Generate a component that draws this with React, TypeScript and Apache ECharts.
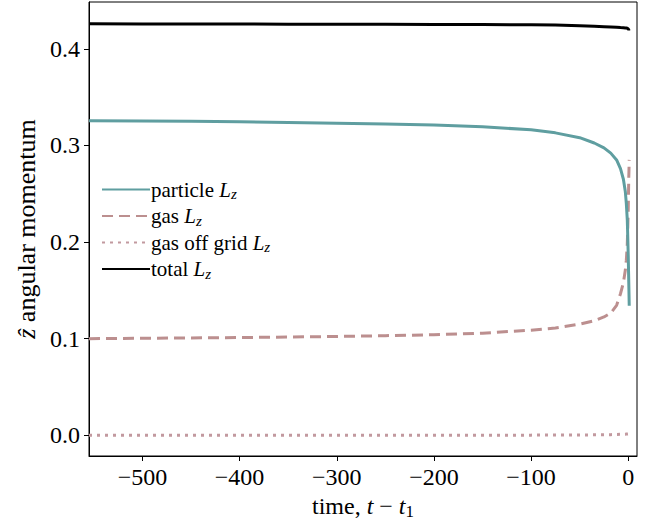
import React, { useEffect, useRef } from "react";
import * as echarts from "echarts";

const times = [-555, -500, -450, -400, -350, -300, -250, -200, -150, -100, -75, -50, -35, -25, -18, -12, -8, -5, -3, -2, -1, -0.5, 0, 0.5, 1];
const particleLz = [0.3255, 0.3252, 0.3249, 0.3244, 0.3237, 0.323, 0.3222, 0.321, 0.3192, 0.3162, 0.313, 0.308, 0.3025, 0.2975, 0.292, 0.285, 0.276, 0.265, 0.252, 0.24, 0.223, 0.205, 0.185, 0.16, 0.134];
const gasLz = [0.1, 0.1004, 0.1008, 0.1012, 0.1017, 0.1023, 0.1031, 0.1041, 0.1057, 0.1088, 0.111, 0.115, 0.1185, 0.1225, 0.1265, 0.1345, 0.1465, 0.158, 0.171, 0.181, 0.198, 0.215, 0.235, 0.265, 0.285];
const offGridLz = [0.0, 0.0, 0.0, 0.0, 0.0, 0.0, 0.0001, 0.0001, 0.0001, 0.0002, 0.0003, 0.0004, 0.0005, 0.0006, 0.0007, 0.0009, 0.001, 0.0011, 0.0012, 0.0013, 0.0014, 0.0014, 0.0015, 0.0015, 0.0016];
const totalLz = [0.4258, 0.4257, 0.4256, 0.4256, 0.4255, 0.4254, 0.4253, 0.4252, 0.425, 0.4248, 0.4245, 0.4238, 0.4233, 0.4229, 0.4226, 0.4223, 0.422, 0.4218, 0.4216, 0.4214, 0.4212, 0.4208, 0.4205, 0.4195, 0.4205];

const xTicks = [-500, -400, -300, -200, -100, 0];
const yTicks = [0.0, 0.1, 0.2, 0.3, 0.4];

const seriesNames = ["particle", "gas", "gas off grid", "total"];
const seriesColors = ["#5f9ea0", "#bc8f8f", "#c2999f", "#000000"];

const FONT = "'Liberation Serif', 'DejaVu Serif', serif";

export default function App() {
  const ref = useRef<HTMLDivElement>(null);
  useEffect(() => {
    document.body.style.margin = "0";
    const chart = echarts.init(ref.current!, null, { renderer: "svg" });
    const mk = (vals: number[]) => times.map((t, i) => [t, vals[i]]);
    const subRich = {
      i: { fontFamily: FONT, fontStyle: "italic", fontSize: 21, color: "#000" },
      sub: { fontFamily: FONT, fontStyle: "italic", fontSize: 15, color: "#000", padding: [9, 0, 0, 0] },
    };
    chart.setOption({
      animation: false,
      textStyle: { fontFamily: FONT },
      grid: {
        left: 89,
        right: 14,
        top: 2,
        bottom: 64,
        show: true,
        borderColor: "#000",
        borderWidth: 1,
        containLabel: false,
        outerBoundsMode: "none",
      },
      legend: {
        orient: "vertical",
        left: 101,
        top: 179,
        padding: 0,
        itemWidth: 48,
        itemHeight: 14,
        itemGap: 4,
        itemStyle: { opacity: 0 },
        data: seriesNames,
        formatter: (name: string) => `${name} {i|L}{sub|z}`,
        textStyle: {
          fontFamily: FONT,
          fontSize: 21,
          color: "#000",
          lineHeight: 21,
          padding: [0, 0, 0, -4],
          rich: subRich,
        },
      },
      xAxis: {
        type: "value",
        min: -555,
        max: 9,
        splitLine: { show: false },
        axisLine: { show: true, onZero: false, lineStyle: { color: "#000", width: 1 } },
        axisTick: { show: true, length: 5, lineStyle: { color: "#000" }, customValues: xTicks },
        axisLabel: {
          customValues: xTicks,
          fontFamily: FONT,
          fontSize: 24,
          color: "#000",
          margin: 9,
          formatter: (v: number) => (v < 0 ? "\u2212" + Math.abs(v) : String(v)),
        },
        name: "time, {i|t} \u2212 {i|t}{sub|1}",
        nameLocation: "middle",
        nameGap: 32,
        nameTextStyle: {
          fontFamily: FONT,
          fontSize: 24,
          color: "#000",
          rich: {
            i: { fontFamily: FONT, fontStyle: "italic", fontSize: 24, color: "#000" },
            sub: { fontFamily: FONT, fontSize: 17, color: "#000", padding: [11, 0, 0, 0] },
          },
        },
      },
      yAxis: {
        type: "value",
        min: -0.0214,
        max: 0.4484,
        splitLine: { show: false },
        axisLine: { show: true, onZero: false, lineStyle: { color: "#000", width: 1 } },
        axisTick: { show: true, length: 5, lineStyle: { color: "#000" }, customValues: yTicks },
        axisLabel: {
          customValues: yTicks,
          fontFamily: FONT,
          fontSize: 24,
          color: "#000",
          margin: 9,
          formatter: (v: number) => v.toFixed(1),
        },
        name: "{i|z\u0302} angular momentum",
        nameLocation: "middle",
        nameGap: 49,
        nameTextStyle: {
          fontFamily: FONT,
          fontSize: 26,
          color: "#000",
          rich: {
            i: { fontFamily: FONT, fontStyle: "italic", fontSize: 26, color: "#000" },
          },
        },
      },
      series: [
        {
          name: seriesNames[0],
          type: "line",
          data: mk(particleLz),
          symbol: "none",
          color: seriesColors[0],
          lineStyle: { color: seriesColors[0], width: 3 },
          z: 4,
        },
        {
          name: seriesNames[1],
          type: "line",
          data: mk(gasLz),
          symbol: "none",
          color: seriesColors[1],
          lineStyle: { color: seriesColors[1], width: 3, type: [11, 6] },
          z: 3,
        },
        {
          name: seriesNames[2],
          type: "line",
          data: mk(offGridLz),
          symbol: "none",
          color: seriesColors[2],
          lineStyle: { color: seriesColors[2], width: 3, type: [3, 5] },
          z: 2,
        },
        {
          name: seriesNames[3],
          type: "line",
          data: mk(totalLz),
          symbol: "none",
          color: seriesColors[3],
          lineStyle: { color: seriesColors[3], width: 3 },
          z: 5,
        },
      ],
    });
    return () => chart.dispose();
  }, []);
  return <div ref={ref} style={{ width: 651, height: 520 }} />;
}
